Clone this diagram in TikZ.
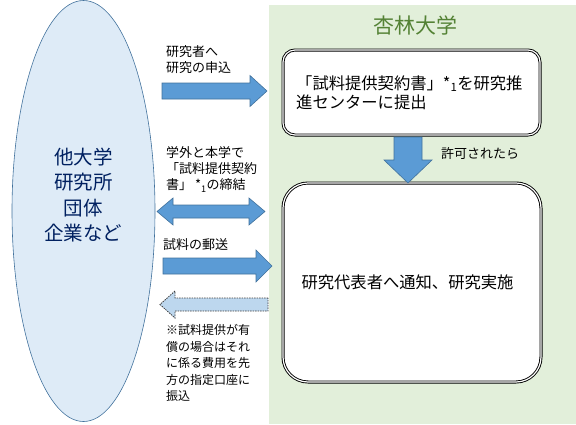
\documentclass[tikz,border=0pt]{standalone}
\usepackage{fontspec}
\setmainfont{Noto Sans CJK JP}
\usetikzlibrary{shapes.geometric}
\definecolor{arrowblue}{HTML}{5B9BD5}
\definecolor{arrowedge}{HTML}{41719C}
\definecolor{lightblue}{HTML}{BDD7EE}
\definecolor{ellfill}{HTML}{DEEBF7}
\definecolor{panel}{HTML}{E2EFDA}
\definecolor{titlegreen}{HTML}{548235}
\definecolor{navy}{HTML}{002060}
\tikzset{
  blockarrow/.style={fill=arrowblue, draw=arrowedge, line width=0.6pt, line join=miter},
  dasharrow/.style={fill=lightblue, draw=black!75, dashed, dash pattern=on 1.5pt off 1pt, line width=0.8pt},
  flowbox/.style={draw=black, double=white, double distance=1.2pt, line width=0.9pt, fill=white, inner sep=0pt},
  lbl/.style={font=\fontsize{13}{16}\selectfont, align=left, anchor=west, inner sep=0pt},
  notetxt/.style={font=\fontsize{12}{16.5}\selectfont, align=left, anchor=west, inner sep=0pt},
  boxtxt/.style={font=\fontsize{16.3}{19}\selectfont, align=left, inner sep=0pt}
}
\begin{document}
\begin{tikzpicture}[x=1pt,y=-1pt]
\useasboundingbox (0,0) rectangle (576,424);
\fill[panel] (269,5) rectangle (576,424);
\node[ellipse, draw=arrowedge, fill=ellfill, line width=0.6pt, minimum width=143pt, minimum height=421pt, inner sep=0pt] (org) at (83.5,211) {};
\node[navy, align=center, font=\fontsize{19.5}{25.3}\selectfont, inner sep=0pt] (orgtxt) at (83.5,195) {他大学\\研究所\\団体\\企業など};
\node[titlegreen, font=\fontsize{21}{24}\selectfont, inner sep=0pt] (title) at (415,25) {杏林大学};

\node[flowbox, rounded corners=12pt, minimum width=257pt, minimum height=85pt] (req) at (411.5,92.5) {};
\node[boxtxt, anchor=west] (reqtxt) at (296,92.5) {「試料提供契約書」*\textsubscript{1}を研究推\\進センターに提出};
\node[flowbox, rounded corners=25pt, minimum width=258pt, minimum height=199pt] (exec) at (412,282.5) {};
\node[boxtxt] (exectxt) at (407.5,282) {研究代表者へ通知、研究実施};

% arrow 1: application
\draw[blockarrow] (162,83)--(250,83)--(250,75.5)--(267,91)--(250,106.5)--(250,99)--(162,99)--cycle;
\node[lbl] (l1) at (166,60) {研究者へ\\研究の申込};
% double arrow: contract
\draw[blockarrow] (157,211.5)--(173,198)--(173,205)--(249,205)--(249,198)--(265,211.5)--(249,225)--(249,218)--(173,218)--(173,225)--cycle;
\node[lbl] (l2) at (166,169.5) {学外と本学で\\「試料提供契約\\書」 *\textsubscript{1}の締結};
% arrow 3: sample shipping
\draw[blockarrow] (163,258)--(256,258)--(256,250)--(272,266)--(256,282)--(256,274)--(163,274)--cycle;
\node[lbl] (l3) at (163,245) {試料の郵送};
% dashed arrow: payment
\draw[dasharrow] (268,298)--(175,298)--(175,291)--(160,304.5)--(175,318)--(175,311)--(268,311)--cycle;
\node[notetxt] (note) at (166,363) {※試料提供が有\\償の場合はそれ\\に係る費用を先\\方の指定口座に\\振込};
% down arrow: permission
\draw[blockarrow] (394,137)--(422,137)--(422,160)--(432,160)--(408,183)--(384,160)--(394,160)--cycle;
\node[lbl] (l4) at (441,154) {許可されたら};
\end{tikzpicture}
\end{document}
